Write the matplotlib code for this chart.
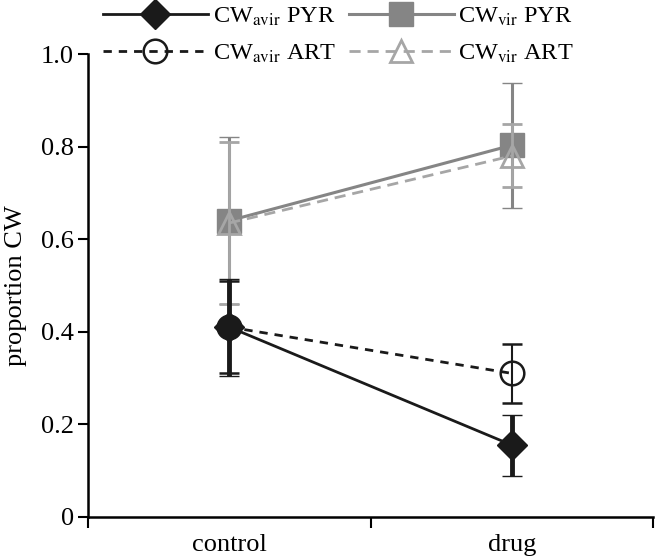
import matplotlib.pyplot as plt
from matplotlib.lines import Line2D

# group means and error bars
groups = ["control", "drug"]
avir_pyr = [0.41, 0.155]
avir_pyr_err = [0.105, 0.066]
avir_art = [0.41, 0.31]
avir_art_err = [0.10, 0.063]
vir_pyr = [0.64, 0.803]
vir_pyr_err = [0.18, 0.135]
vir_art = [0.635, 0.78]
vir_art_err = [0.175, 0.068]

plt.rcParams['font.family'] = 'serif'
plt.rcParams['font.serif'] = ['Liberation Serif', 'DejaVu Serif']
plt.rcParams['mathtext.fontset'] = 'stix'

fig = plt.figure(figsize=(6.56, 5.57), dpi=100)
ax = fig.add_axes([0.134, 0.072, 0.862, 0.831])

x = [0.5, 1.5]
dark = "#1a1a1a"
grey = "#858585"
light = "#a6a6a6"

styles = {
    "vir_pyr": dict(color=grey, lw=2.2, ls="-", marker="s", ms=17, mfc=grey,
                    mec=grey, mew=1),
    "vir_art": dict(color=light, lw=2, ls=(0, (4, 2.5)), marker="^", ms=16,
                    mfc="none", mec=light, mew=2),
    "avir_pyr": dict(color=dark, lw=2, ls="-", marker="D", ms=15, mfc=dark,
                     mec=dark, mew=1),
    "avir_art": dict(color=dark, lw=2, ls=(0, (3, 2.5)), marker="o", ms=17,
                     mfc="none", mec=dark, mew=1.8),
}

ax.errorbar(x, vir_pyr, yerr=vir_pyr_err, capsize=7, capthick=2.5,
            elinewidth=2.2, zorder=2, **styles["vir_pyr"])
ax.errorbar(x, vir_art, yerr=vir_art_err, capsize=7, capthick=2,
            elinewidth=2, zorder=3, **styles["vir_art"])
ax.errorbar(x, avir_pyr, yerr=avir_pyr_err, capsize=7, capthick=3.5,
            elinewidth=3.5, zorder=4, **styles["avir_pyr"])
ax.errorbar(x, avir_art, yerr=avir_art_err, capsize=7, capthick=1.5,
            elinewidth=1.5, zorder=5, **styles["avir_art"])

ax.set_xlim(0, 2)
ax.set_ylim(0, 1.0)
ax.set_xticks([0, 1, 2])
ax.set_xticklabels([])
ax.set_xticks(x, minor=True)
ax.set_xticklabels(groups, minor=True, fontsize=19)
ax.tick_params(axis="x", which="minor", length=0, pad=12)
ax.tick_params(axis="x", which="major", length=8, width=1.5, direction="out")
ax.set_yticks([0, 0.2, 0.4, 0.6, 0.8, 1.0])
ax.set_yticklabels(["0", "0.2", "0.4", "0.6", "0.8", "1.0"], fontsize=19)
ax.tick_params(axis="y", length=7, width=1.5, direction="out", pad=3)
ax.set_ylabel("proportion CW", fontsize=19, labelpad=10)

for side in ["top", "right"]:
    ax.spines[side].set_visible(False)
for side in ["left", "bottom"]:
    ax.spines[side].set_linewidth(1.8)

handles = [Line2D([], [], **styles[k]) for k in
           ["avir_pyr", "avir_art", "vir_pyr", "vir_art"]]
labels = [r"CW$_{\mathrm{avir}}$ PYR", r"CW$_{\mathrm{avir}}$ ART",
          r"CW$_{\mathrm{vir}}$ PYR", r"CW$_{\mathrm{vir}}$ ART"]
fig.legend(handles, labels, ncol=2, loc="upper left",
           bbox_to_anchor=(0.124, 1.029), frameon=False, fontsize=17.5,
           handlelength=4.3, columnspacing=0.55, handletextpad=0.2,
           labelspacing=0.6)

fig.savefig("out.png", dpi=100)
